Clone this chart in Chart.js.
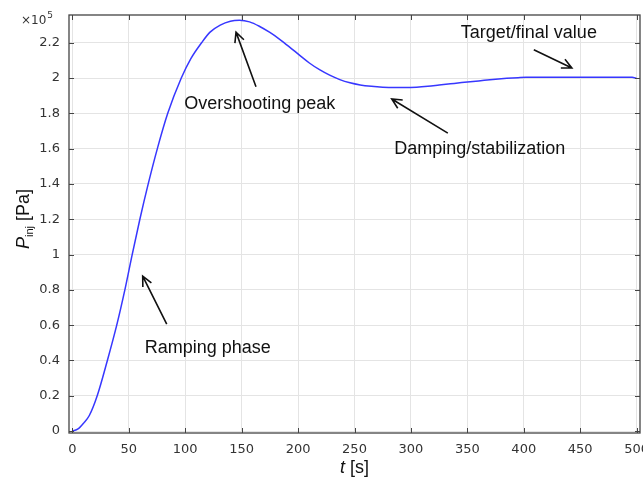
<!DOCTYPE html>
<html>
<head>
<meta charset="utf-8">
<script src="https://cdn.jsdelivr.net/npm/chart.js@4"></script>
<style>
  html, body { margin: 0; padding: 0; background: #fff; }
</style>
</head>
<body>
<canvas id="chart" width="643" height="481"></canvas>
<script>
// time [s]
const timeValues = [0, 5, 10, 15, 22, 31, 39.3, 46.5, 53, 59.8, 67.2, 75.3, 84.5, 96.5, 105, 114.5, 122, 131, 140, 148,
  157, 166, 175, 184, 192, 201.5, 210, 219, 228, 237, 246, 255, 265, 275, 285, 295, 305,
  315, 325, 335, 345, 355, 365, 375, 385, 395, 402, 420, 440, 460, 480, 496, 500];
// injection pressure [x10^5 Pa]
const pressureValues = [0, 0.012, 0.045, 0.088, 0.2, 0.4, 0.6, 0.8, 1.0, 1.2, 1.4, 1.6, 1.8, 2.0, 2.11, 2.2, 2.26, 2.30, 2.322, 2.327,
  2.318, 2.292, 2.258, 2.218, 2.178, 2.128, 2.085, 2.047, 2.016, 1.991, 1.973, 1.961, 1.953, 1.948, 1.946, 1.946, 1.948,
  1.953, 1.960, 1.967, 1.974, 1.980, 1.987, 1.993, 1.998, 2.002, 2.004, 2.004, 2.004, 2.004, 2.004, 2.004, 1.998];
const xTicks = [0, 50, 100, 150, 200, 250, 300, 350, 400, 450, 500];
const yTicks = [0, 0.2, 0.4, 0.6, 0.8, 1, 1.2, 1.4, 1.6, 1.8, 2, 2.2];

// text notes with arrows, in data units
const notes = [
  { text: 'Overshooting peak', at: [166, 1.85], from: [162.7, 1.95], to: [145, 2.26] },
  { text: 'Target/final value', at: [404.5, 2.255], from: [408.9, 2.16], to: [442.6, 2.057] },
  { text: 'Damping/stabilization', at: [361, 1.598], from: [332.7, 1.688], to: [283, 1.881] },
  { text: 'Ramping phase', at: [120, 0.47], from: [83.6, 0.606], to: [62.3, 0.878] }
];

const tickFont = { family: 'DejaVu Sans', size: 13 };
const labelFont = '"Liberation Sans", Arial, sans-serif';

const decorPlugin = {
  id: 'decor',
  afterDraw(chart) {
    const { ctx, chartArea: a, scales: { x, y } } = chart;
    ctx.save();

    // frame
    ctx.strokeStyle = '#444';
    ctx.lineWidth = 1.3;
    ctx.strokeRect(a.left, a.top, a.right - a.left, a.bottom - a.top);

    // inside ticks on all four sides
    ctx.beginPath();
    xTicks.forEach(v => {
      const px = Math.round(x.getPixelForValue(v)) + 0.5;
      ctx.moveTo(px, a.bottom); ctx.lineTo(px, a.bottom - 5);
      ctx.moveTo(px, a.top); ctx.lineTo(px, a.top + 5);
    });
    yTicks.forEach(v => {
      const py = Math.round(y.getPixelForValue(v)) + 0.5;
      ctx.moveTo(a.left, py); ctx.lineTo(a.left + 5, py);
      ctx.moveTo(a.right, py); ctx.lineTo(a.right - 5, py);
    });
    ctx.lineWidth = 1;
    ctx.stroke();

    // x10^5 multiplier
    ctx.fillStyle = '#333';
    ctx.textBaseline = 'alphabetic';
    ctx.textAlign = 'left';
    ctx.font = '12px "DejaVu Sans"';
    ctx.fillText('\u00d710', 21, 24);
    const w10 = ctx.measureText('\u00d710').width;
    ctx.font = '9px "DejaVu Sans"';
    ctx.fillText('5', 21 + w10 + 1, 18);

    // y title: P_inj [Pa]
    ctx.fillStyle = '#111';
    ctx.save();
    ctx.translate(29, 219);
    ctx.rotate(-Math.PI / 2);
    const parts = [
      { t: 'P', f: 'italic 18px ' + labelFont, dy: 0 },
      { t: 'inj', f: '11px ' + labelFont, dy: 4 },
      { t: ' [Pa]', f: '18px ' + labelFont, dy: 0 }
    ];
    let total = 0;
    parts.forEach(p => { ctx.font = p.f; p.w = ctx.measureText(p.t).width; total += p.w; });
    let cx = -total / 2;
    parts.forEach(p => { ctx.font = p.f; ctx.fillText(p.t, cx, p.dy); cx += p.w; });
    ctx.restore();

    // x title: t [s]
    const xc = (a.left + a.right) / 2;
    ctx.font = 'italic 18px ' + labelFont;
    const wt = ctx.measureText('t').width;
    ctx.font = '18px ' + labelFont;
    const ws = ctx.measureText(' [s]').width;
    let sx = xc - (wt + ws) / 2;
    ctx.font = 'italic 18px ' + labelFont;
    ctx.fillText('t', sx, 473);
    ctx.font = '18px ' + labelFont;
    ctx.fillText(' [s]', sx + wt, 473);

    // notes and arrows
    ctx.fillStyle = '#111';
    ctx.strokeStyle = '#111';
    ctx.lineWidth = 1.6;
    ctx.font = '18px ' + labelFont;
    ctx.textAlign = 'center';
    ctx.textBaseline = 'middle';
    notes.forEach(n => {
      ctx.fillText(n.text, x.getPixelForValue(n.at[0]), y.getPixelForValue(n.at[1]));
      const x1 = x.getPixelForValue(n.from[0]), y1 = y.getPixelForValue(n.from[1]);
      const x2 = x.getPixelForValue(n.to[0]), y2 = y.getPixelForValue(n.to[1]);
      const ang = Math.atan2(y2 - y1, x2 - x1);
      ctx.beginPath();
      ctx.moveTo(x1, y1); ctx.lineTo(x2, y2);
      ctx.moveTo(x2 - 11 * Math.cos(ang - 0.45), y2 - 11 * Math.sin(ang - 0.45));
      ctx.lineTo(x2, y2);
      ctx.lineTo(x2 - 11 * Math.cos(ang + 0.45), y2 - 11 * Math.sin(ang + 0.45));
      ctx.stroke();
    });

    ctx.restore();
  }
};

new Chart(document.getElementById('chart'), {
  type: 'line',
  data: {
    datasets: [{
      data: timeValues.map((t, i) => ({ x: t, y: pressureValues[i] })),
      borderColor: 'rgb(55, 55, 255)',
      borderWidth: 1.5,
      pointRadius: 0,
      cubicInterpolationMode: 'monotone',
      fill: false
    }]
  },
  options: {
    responsive: false,
    animation: false,
    devicePixelRatio: 1,
    layout: { padding: { top: 15, right: 3, left: 0, bottom: 0 } },
    plugins: { legend: { display: false }, tooltip: { enabled: false } },
    scales: {
      x: {
        type: 'linear',
        min: -3,
        max: 503,
        afterBuildTicks: s => { s.ticks = xTicks.map(v => ({ value: v })); },
        afterFit: s => { s.height = 48; s.paddingLeft = 0; s.paddingRight = 0; },
        grid: { color: '#e4e4e4', drawTicks: false },
        border: { display: false },
        ticks: { font: tickFont, color: '#333', padding: 9, maxRotation: 0, autoSkip: false }
      },
      y: {
        type: 'linear',
        min: -0.011,
        max: 2.357,
        afterBuildTicks: s => { s.ticks = yTicks.map(v => ({ value: v })); },
        afterFit: s => { s.width = 69; s.paddingTop = 0; s.paddingBottom = 0; },
        grid: { color: '#e4e4e4', drawTicks: false },
        border: { display: false },
        ticks: {
          font: tickFont, color: '#333', padding: 9, autoSkip: false,
          callback: v => String(+v.toFixed(1))
        }
      }
    }
  },
  plugins: [decorPlugin]
});
</script>
</body>
</html>
